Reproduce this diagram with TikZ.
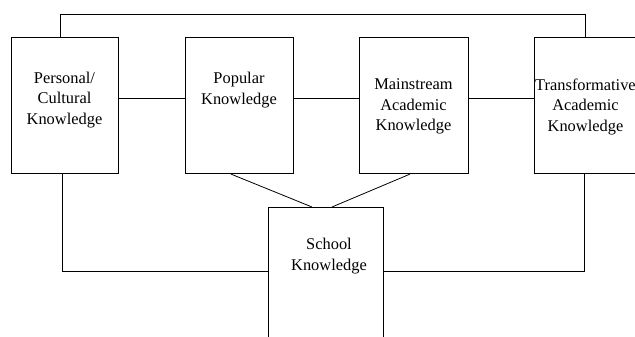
\documentclass[tikz,border=0pt]{standalone}
\usepackage{fontspec}
\setmainfont{Liberation Serif}
\begin{document}
\begin{tikzpicture}[x=1pt,y=-1pt,
  box/.style={draw=black,line width=0.8pt,inner sep=0pt,anchor=north west,minimum height=135.8pt},
  lbl/.style={align=center,inner sep=0pt,font=\fontsize{16.4}{20.5}\selectfont},
  conn/.style={draw=black,line width=0.8pt}]
\useasboundingbox (0,0) rectangle (635,337);
\clip (0,0) rectangle (635,337);
% boxes
\node[box,minimum width=107pt] (b1) at (11,37.5) {};
\node[box,minimum width=108pt] (b2) at (185,37.5) {};
\node[box,minimum width=109pt] (b3) at (359,37.5) {};
\node[box,minimum width=109pt] (b4) at (533.5,37.5) {};
\node[box,minimum width=115pt,minimum height=160pt] (s) at (268.3,207) {};
% labels
\node[lbl] (t1) at (64.5,100) {Personal/\\Cultural\\Knowledge};
\node[lbl] (t2) at (239,90) {Popular\\Knowledge};
\node[lbl] (t3) at (413.5,106.5) {Mainstream\\Academic\\Knowledge};
\node[lbl] (t4) at (585.5,106.5) {Transformative\\Academic\\Knowledge};
\node[lbl] (ts) at (329,256) {School\\Knowledge};
% helper coordinates
\coordinate (p1) at (60,14.5);
\coordinate (p2) at (585,14.5);
\coordinate (m) at (0,98);
\coordinate (q1) at (62,271);
\coordinate (q2) at (584,271);
\coordinate (d1) at (231,0);
\coordinate (d2) at (312,0);
\coordinate (d3) at (410,0);
\coordinate (d4) at (332,0);
% connectors
\draw[conn] (p1 |- b1.north) -- (p1) -- (p2) -- (p2 |- b4.north);
\draw[conn] (b1.east |- m) -- (b2.west |- m);
\draw[conn] (b2.east |- m) -- (b3.west |- m);
\draw[conn] (b3.east |- m) -- (b4.west |- m);
\draw[conn] (q1 |- b1.south) -- (q1) -- (s.west |- q1);
\draw[conn] (s.east |- q2) -- (q2) -- (q2 |- b4.south);
\draw[conn] (d1 |- b2.south) -- (d2 |- s.north);
\draw[conn] (d3 |- b3.south) -- (d4 |- s.north);
\end{tikzpicture}
\end{document}
